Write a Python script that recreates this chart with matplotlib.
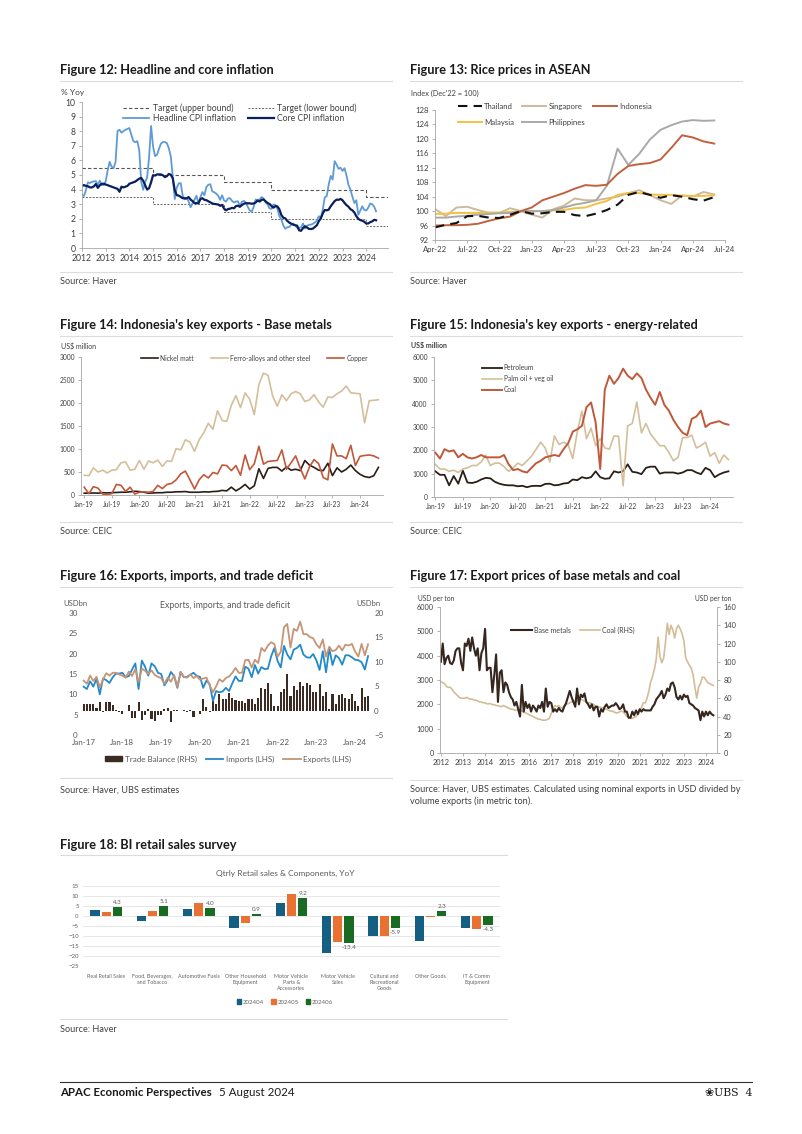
import numpy as np
import matplotlib
matplotlib.use('Agg')
import matplotlib.pyplot as plt
from matplotlib.lines import Line2D
from matplotlib.patches import Patch

plt.rcParams['font.family'] = ['Lato', 'DejaVu Sans']

# ---------------- data ----------------
# Figure 12: monthly Jan-2012 .. Jun-2024
headline_cpi = [3.65, 3.56, 3.97, 4.50, 4.45, 4.53, 4.56, 4.58, 4.31, 4.61, 4.32, 4.30,
                4.57, 5.31, 5.90, 5.57, 5.47, 5.90, 8.01, 8.10, 7.90, 8.00, 8.10, 8.15,
                8.22, 7.75, 7.32, 7.25, 7.32, 6.70, 4.53, 3.99, 4.53, 4.83, 6.23, 8.36,
                6.96, 6.29, 6.38, 6.79, 7.15, 7.26, 7.26, 7.18, 6.83, 6.25, 4.89, 3.35,
                4.14, 4.42, 4.45, 3.60, 3.33, 3.45, 3.21, 2.79, 3.07, 3.31, 3.58, 3.02,
                3.49, 3.83, 3.61, 4.17, 4.33, 4.37, 3.88, 3.82, 3.72, 3.58, 3.30, 3.61,
                3.25, 3.18, 3.40, 3.41, 3.23, 3.12, 3.18, 3.20, 2.88, 3.16, 3.23, 3.13,
                2.82, 2.57, 2.48, 2.83, 3.32, 3.28, 3.32, 3.49, 3.39, 3.13, 3.00, 2.72,
                2.68, 2.98, 2.96, 2.67, 2.19, 1.96, 1.54, 1.32, 1.42, 1.44, 1.59, 1.68,
                1.55, 1.38, 1.37, 1.42, 1.68, 1.33, 1.52, 1.59, 1.60, 1.66, 1.75, 1.87,
                2.18, 2.06, 2.64, 3.47, 3.55, 4.35, 4.94, 4.69, 5.95, 5.71, 5.42, 5.51,
                5.28, 5.47, 4.97, 4.33, 4.00, 3.52, 3.08, 3.27, 2.28, 2.56, 2.86, 2.61,
                2.57, 2.75, 3.05, 3.00, 2.84, 2.51]
core_cpi = [4.25, 4.31, 4.25, 4.23, 4.15, 4.15, 4.22, 4.38, 4.12, 4.29, 4.40, 4.40,
            4.35, 4.30, 4.25, 4.20, 4.15, 4.10, 4.05, 3.85, 4.20, 4.15, 4.20, 4.25,
            4.40, 4.45, 4.50, 4.55, 4.65, 4.75, 4.80, 4.60, 4.30, 4.00, 4.10, 4.50,
            4.99, 4.96, 5.04, 5.04, 5.04, 4.98, 4.86, 4.92, 5.07, 5.02, 4.77, 3.95,
            3.62, 3.59, 3.50, 3.41, 3.41, 3.39, 3.49, 3.32, 3.21, 3.08, 3.07, 3.07,
            3.35, 3.41, 3.30, 3.28, 3.20, 3.13, 3.05, 3.02, 3.00, 2.98, 2.89, 2.95,
            2.69, 2.58, 2.67, 2.69, 2.75, 2.72, 2.87, 2.90, 2.82, 2.94, 3.03, 3.07,
            3.06, 3.06, 3.03, 3.05, 3.12, 3.25, 3.18, 3.30, 3.32, 3.20, 3.08, 3.02,
            2.88, 2.76, 2.87, 2.85, 2.65, 2.26, 2.07, 2.03, 1.86, 1.74, 1.67, 1.60,
            1.56, 1.53, 1.21, 1.18, 1.37, 1.49, 1.40, 1.31, 1.30, 1.33, 1.44, 1.56,
            1.84, 2.03, 2.37, 2.60, 2.58, 2.63, 2.86, 3.04, 3.21, 3.31, 3.30, 3.36,
            3.27, 3.09, 2.94, 2.83, 2.66, 2.58, 2.43, 2.18, 2.00, 1.91, 1.87, 1.80,
            1.68, 1.68, 1.77, 1.82, 1.93, 1.90]
target_years = [2012, 2015, 2018, 2020, 2024, 2024.92]
target_upper = [5.5, 5.0, 4.5, 4.0, 3.5, 3.5]
target_lower = [3.5, 3.0, 2.5, 2.0, 1.5, 1.5]
years_12 = list(range(2012, 2025))

# Figure 13: monthly Apr-22 .. Jun-24
rice_labels = ['Apr-22', 'Jul-22', 'Oct-22', 'Jan-23', 'Apr-23', 'Jul-23', 'Oct-23',
               'Jan-24', 'Apr-24', 'Jul-24']
thailand = [95.5, 96.2, 96.7, 98.6, 98.7, 98.2, 98.1, 99.0, 100.0, 99.3, 99.4, 99.8, 99.8,
            98.9, 98.6, 99.3, 100.3, 101.8, 104.5, 105.3, 104.5, 103.7, 104.4, 104.0,
            103.3, 102.9, 103.9]
singapore = [100.6, 98.6, 101.0, 101.2, 100.3, 99.5, 99.5, 100.8, 100.0, 99.0, 98.2, 100.5,
             101.5, 103.5, 103.0, 103.0, 103.5, 104.0, 105.0, 105.8, 104.5, 103.0, 102.0,
             104.3, 104.0, 105.3, 104.6]
indonesia = [96.0, 96.1, 96.1, 96.2, 96.5, 97.3, 98.0, 98.5, 100.0, 101.0, 103.0, 104.0,
             105.0, 106.2, 107.2, 107.0, 107.3, 110.3, 112.5, 113.0, 113.3, 114.3, 117.5,
             121.0, 120.4, 119.3, 118.7]
malaysia = [99.2, 99.3, 99.5, 99.5, 99.5, 99.6, 99.6, 99.8, 100.0, 100.0, 100.0, 100.2,
            100.3, 100.8, 101.0, 102.0, 102.8, 104.5, 105.0, 105.0, 104.6, 104.5, 104.5,
            104.3, 104.2, 104.2, 104.4]
philippines = [98.2, 98.2, 98.5, 98.7, 99.0, 99.2, 99.4, 99.5, 100.0, 100.0, 100.0, 100.3,
               101.0, 101.8, 102.3, 103.0, 107.0, 117.3, 112.8, 115.8, 119.8, 122.5, 123.8,
               124.8, 125.2, 125.0, 125.1]

# Figure 14 / 15: monthly Jan-19 .. May-24
month_labels_19 = ['Jan-19', 'Jul-19', 'Jan-20', 'Jul-20', 'Jan-21', 'Jul-21', 'Jan-22',
                   'Jul-22', 'Jan-23', 'Jul-23', 'Jan-24']
nickel_matt = [40, 40, 45, 40, 50, 45, 50, 55, 60, 60, 70, 80,
               75, 60, 40, 45, 50, 50, 60, 60, 70, 70, 75, 60,
               60, 60, 70, 65, 75, 80, 100, 90, 170, 90, 150, 230,
               130, 200, 570, 360, 580, 600, 600, 520, 610, 540, 560, 530,
               750, 650, 600, 540, 530, 690, 420, 590, 500, 560, 650, 530,
               450, 400, 380, 420, 600]
ferro_alloys = [430, 420, 590, 500, 540, 480, 540, 550, 700, 720, 540, 560,
                750, 560, 740, 700, 760, 620, 740, 730, 1010, 980, 1200, 1150,
                950, 1200, 1350, 1560, 1430, 1830, 1620, 1600, 1950, 2160, 1900, 2220,
                2080, 1750, 2400, 2650, 2600, 2150, 1930, 2180, 2050, 2200, 2250, 2200,
                2030, 2070, 2180, 2020, 1910, 2130, 2120, 2200, 2260, 2370, 2220, 2210,
                2200, 1570, 2050, 2060, 2070]
copper = [170, 30, 180, 150, 20, 10, 30, 230, 210, 80, 170, 20,
          60, 70, 60, 80, 210, 140, 230, 250, 330, 460, 520, 330,
          130, 330, 440, 370, 490, 460, 650, 640, 530, 640, 430, 870,
          550, 680, 1060, 670, 730, 740, 750, 980, 560, 700, 850, 580,
          350, 610, 770, 680, 380, 330, 1110, 850, 850, 790, 1080, 640,
          840, 860, 870, 850, 800]
petroleum = [1100, 950, 950, 500, 900, 570, 1130, 620, 600, 650, 750, 820,
             800, 650, 570, 520, 500, 500, 460, 480, 420, 470, 480, 470,
             560, 570, 500, 520, 580, 600, 750, 720, 850, 800, 850, 1100,
             850, 780, 800, 1100, 1050, 1100, 1400, 1080, 1050, 980, 1250, 1300,
             1300, 1000, 1050, 1050, 1050, 1000, 1050, 1150, 1150, 1050, 980, 1250,
             1150, 850, 970, 1050, 1100]
palm_oil = [1400, 1200, 1200, 1100, 1150, 1050, 1200, 1250, 1350, 1350, 1500, 1800,
            1350, 1450, 1450, 1300, 1100, 1250, 1450, 1350, 1550, 1750, 2050, 2350,
            2100, 1500, 2620, 2250, 2350, 2250, 1650, 2800, 3680, 2500, 2950, 2200,
            2500, 2100, 2050, 2620, 2600, 480, 3050, 3150, 4070, 2750, 3150, 2700,
            2450, 2200, 2200, 1900, 1550, 1700, 2550, 2550, 2650, 2100, 2200, 2350,
            1750, 1900, 1450, 1800, 1600]
coal_exports = [1900, 1650, 2050, 1950, 2000, 1700, 1850, 1700, 1650, 1700, 1800, 1700,
                1700, 1700, 1700, 1800, 1400, 1150, 1200, 1100, 1050, 1250, 1450, 1550,
                1700, 1750, 1800, 1750, 2050, 2300, 2800, 2900, 3050, 3850, 4050, 3200,
                1200, 4600, 5200, 4850, 5100, 5500, 5200, 5050, 5300, 5100, 4600, 4250,
                3950, 4500, 3950, 3700, 3300, 3000, 2750, 2650, 3350, 3450, 3700, 3000,
                3150, 3200, 3250, 3150, 3100]

# Figure 16: monthly Jan-17 .. May-24, USD bn
month_labels_17 = ['Jan-17', 'Jan-18', 'Jan-19', 'Jan-20', 'Jan-21', 'Jan-22', 'Jan-23', 'Jan-24']
exports = [13.4, 12.6, 14.6, 13.3, 14.3, 11.7, 13.6, 15.2, 14.6, 15.3, 15.3, 14.9,
           14.6, 14.1, 15.6, 14.5, 16.2, 13.0, 16.3, 15.8, 15.0, 15.9, 14.8, 14.3,
           14.0, 12.6, 14.1, 13.1, 14.7, 11.8, 15.5, 14.3, 14.1, 14.9, 14.0, 14.5,
           13.6, 13.9, 14.1, 12.2, 10.5, 12.0, 13.7, 13.1, 14.0, 14.4, 15.3, 16.5,
           15.3, 15.3, 18.4, 18.5, 16.6, 18.5, 17.7, 21.4, 20.6, 22.0, 22.8, 22.4,
           19.2, 20.5, 26.5, 27.3, 21.5, 26.1, 25.6, 27.9, 24.8, 24.8, 24.1, 23.8,
           22.3, 21.4, 23.5, 19.3, 21.7, 20.6, 20.9, 22.0, 20.8, 22.2, 22.0, 22.4,
           20.5, 19.3, 22.4, 19.6, 22.3]
imports = [11.9, 11.3, 13.2, 11.9, 13.8, 10.0, 13.9, 13.5, 12.8, 14.2, 15.1, 15.1,
           15.3, 14.2, 14.5, 16.1, 17.6, 11.3, 18.3, 16.8, 14.6, 17.6, 16.9, 15.3,
           15.0, 12.2, 13.5, 15.5, 14.5, 11.6, 15.5, 14.2, 14.3, 14.8, 15.3, 14.5,
           14.3, 11.6, 13.4, 12.5, 8.4, 10.8, 10.5, 10.7, 11.6, 10.8, 12.7, 14.4,
           13.3, 13.3, 16.8, 16.3, 14.2, 17.2, 15.1, 16.7, 16.2, 16.3, 19.3, 21.4,
           18.2, 16.6, 21.9, 19.8, 18.6, 21.0, 21.4, 22.2, 19.8, 19.1, 19.0, 19.9,
           18.4, 16.0, 20.6, 15.4, 21.3, 17.2, 19.6, 18.9, 17.3, 19.6, 19.6, 19.1,
           18.5, 18.4, 17.9, 16.1, 19.4]
trade_balance = [1.4, 1.3, 1.4, 1.3, 0.5, 1.7, -0.3, 1.7, 1.8, 1.1, 0.2, -0.2,
                 -0.7, -0.1, 1.1, -1.6, -1.5, 1.7, -2.0, -1.0, 0.4, -1.8, -2.1, -1.0,
                 -1.0, 0.4, 0.6, -2.4, 0.2, 0.2, -0.1, 0.1, -0.2, 0.1, -1.3, -0.03,
                 -0.7, 2.3, 0.7, -0.3, 2.1, 1.3, 3.3, 2.4, 2.4, 3.6, 2.6, 2.1,
                 2.0, 2.0, 1.6, 2.3, 2.4, 1.3, 2.6, 4.7, 4.4, 5.7, 3.5, 1.0,
                 0.9, 3.8, 4.5, 7.6, 2.9, 5.1, 4.2, 5.8, 5.0, 5.7, 5.2, 3.9,
                 3.9, 5.4, 2.9, 3.9, 0.4, 3.5, 1.3, 3.1, 3.4, 2.5, 2.4, 3.3,
                 2.0, 0.9, 4.6, 2.7, 2.9]

# Figure 17: monthly Jan-2012 .. May-2024, USD per ton
base_metals = [3750, 4500, 3650, 3900, 4000, 3700, 3650, 3800, 4200, 4300, 4300, 3700,
               3400, 4500, 4400, 4700, 4200, 4750, 4300, 4000, 4300, 3400, 4100, 4300,
               5100, 3400, 3500, 3500, 2500, 3200, 4050, 2100, 3300, 3400, 2500, 2900,
               2800, 2500, 2300, 2200, 1950, 2100, 1800, 1500, 2800, 1700, 2100, 1850,
               2000, 1700, 1950, 1850, 1700, 1950, 1850, 2100, 1700, 2650, 1900, 2100,
               2050, 1700, 1800, 1700, 1850, 1750, 1700, 1900, 2050, 2300, 2550, 2300,
               2100, 1900, 2650, 2000, 2400, 2300, 2450, 2100, 2000, 1850, 2000, 1750,
               1900, 1900, 1500, 1800, 1700, 1900, 2000, 1850, 1900, 1950, 1950, 2050,
               1950, 1800, 1850, 2000, 1700, 1700, 1450, 1450, 1700, 1550, 1750, 1600,
               1800, 1700, 1800, 1750, 1750, 1750, 1750, 1900, 2000, 2200, 2300, 2400,
               2550, 2250, 2400, 2650, 2550, 2850, 2900, 2700, 2300, 2200, 2350, 2200,
               2400, 2300, 2350, 2050, 2000, 1950, 1850, 1800, 1750, 1350, 1700, 1500,
               1700, 1550, 1700, 1600, 1550]
coal_price = [78, 77, 76, 73, 72, 72, 70, 67, 65, 63, 61, 60,
              60, 60, 61, 60, 59, 59, 58, 58, 57, 56, 56, 55,
              55, 54, 54, 54, 53, 53, 52, 52, 51, 51, 52, 51,
              50, 49, 48, 48, 47, 47, 47, 47, 46, 45, 44, 43,
              42, 41, 40, 39, 38, 37, 37, 36, 36, 36, 37, 38,
              44, 49, 52, 51, 52, 50, 49, 52, 53, 54, 55, 56,
              56, 57, 57, 58, 59, 58, 57, 56, 55, 55, 54, 53,
              52, 51, 50, 50, 49, 49, 48, 47, 46, 46, 45, 44,
              44, 45, 46, 45, 43, 40, 39, 38, 38, 39, 40, 42,
              46, 50, 55, 55, 60, 68, 78, 84, 92, 103, 127, 106,
              99, 104, 121, 142, 130, 140, 135, 126, 136, 140, 136, 131,
              123, 104, 100, 96, 93, 86, 72, 60, 72, 76, 83, 83,
              80, 77, 76, 75, 74]

# Figure 18: BI retail sales survey, YoY %
retail_cats = ['Real Retail Sales', 'Food, Beverages,\nand Tobacco', 'Automotive Fuels',
               'Other Household\nEquipment', 'Motor Vehicle\nParts &\nAccessories',
               'Motor Vehicle\nSales', 'Cultural and\nRecreational\nGoods', 'Other Goods',
               'IT & Comm\nEquipment']
r_202404 = [2.9, -2.4, 3.3, -5.9, 6.5, -18.5, -10.0, -12.5, -6.0]
r_202405 = [2.1, 2.5, 6.4, -3.4, 10.9, -13.0, -9.8, -0.6, -6.3]
r_202406 = [4.3, 5.1, 4.0, 0.9, 9.2, -13.4, -5.9, 2.3, -4.3]

# ---------------- page ----------------
W, H = 802, 1134
fig = plt.figure(figsize=(W / 100, H / 100), dpi=100)
fig.patch.set_facecolor('white')

INK = '#1a1a1a'
GREY = '#404040'
SRC = 6.6


def box(x0, y0, x1, y1):
    return fig.add_axes([x0 / W, 1 - y1 / H, (x1 - x0) / W, (y1 - y0) / H])


def txt(x, y, s, **kw):
    kw.setdefault('va', 'center')
    kw.setdefault('color', INK)
    fig.text(x / W, 1 - y / H, s, **kw)


def rule(x0, x1, y, color='#dcdcdc', lw=0.8):
    fig.add_artist(Line2D([x0 / W, x1 / W], [1 - y / H, 1 - y / H], color=color, lw=lw))


def header(x, y, title):
    txt(x, y, title, fontsize=9.2, fontweight='bold')
    rule(x, x + 332, y + 11)


def style(ax, size=6, color=GREY):
    for s in ['top', 'right']:
        ax.spines[s].set_visible(False)
    for s in ['left', 'bottom']:
        ax.spines[s].set_color('#a6a6a6')
        ax.spines[s].set_linewidth(0.6)
    ax.tick_params(labelsize=size, colors='#a6a6a6', labelcolor=color, length=2.5,
                   width=0.6, pad=2)
    ax.set_facecolor('none')


# Figure 12
header(60, 70, 'Figure 12: Headline and core inflation')
txt(61, 93, '% Yoy', fontsize=6, color=GREY)
ax = box(82, 102, 388, 248)
x12 = 2012 + np.arange(len(headline_cpi)) / 12
l1, = ax.plot(target_years, target_upper, drawstyle='steps-post', color='#555555',
              lw=0.8, ls=(0, (3, 2)))
l2, = ax.plot(target_years, target_lower, drawstyle='steps-post', color='#666666',
              lw=0.7, ls=(0, (2, 1.5)))
l3, = ax.plot(x12, headline_cpi, color='#5e9bd6', lw=1.3)
l4, = ax.plot(x12[:len(core_cpi)], core_cpi, color='#0b1f5c', lw=1.6)
ax.set_xlim(2012, 2024.92)
ax.set_ylim(0, 10)
ax.set_yticks(range(0, 11))
ax.set_xticks(years_12)
style(ax, 6.2)
ax.legend([l1, l3, l2, l4], ['Target (upper bound)', 'Headline CPI inflation',
                             'Target (lower bound)', 'Core CPI inflation'],
          ncol=2, frameon=False, fontsize=6.2, handlelength=3.0, columnspacing=1.4,
          handletextpad=0.4, labelspacing=0.15, loc='upper left',
          bbox_to_anchor=(0.11, 1.045), labelcolor=GREY)
rule(60, 392, 272)
txt(60, 282, 'Source: Haver', fontsize=SRC, color=GREY)

# Figure 13
header(410, 70, 'Figure 13: Rice prices in ASEAN')
txt(411, 93, "Index (Dec'22 = 100)", fontsize=5.3, color=GREY)
ax = box(435, 110, 725, 240)
x13 = np.arange(len(thailand))
h_sg, = ax.plot(x13, singapore, color='#cdb99c', lw=1.4)
h_my, = ax.plot(x13, malaysia, color='#f3c141', lw=1.4)
h_ph, = ax.plot(x13, philippines, color='#a9a9a9', lw=1.4)
h_id, = ax.plot(x13, indonesia, color='#c0623f', lw=1.4)
h_th, = ax.plot(x13, thailand, color='#111111', lw=1.5, ls=(0, (4.5, 3)))
ax.set_xlim(0, 27)
ax.set_ylim(92, 128)
ax.set_yticks(range(92, 129, 4))
ax.set_xticks(range(0, 28, 3))
ax.set_xticklabels(rice_labels)
style(ax, 5.6)
ax.legend([h_th, h_my, h_sg, h_ph, h_id],
          ['Thailand', 'Malaysia', 'Singapore', 'Philippines', 'Indonesia'],
          ncol=3, frameon=False, fontsize=5.6, handlelength=3.1, columnspacing=1.0,
          handletextpad=0.3, labelspacing=1.2, loc='upper left',
          bbox_to_anchor=(0.055, 1.11), labelcolor=GREY)
rule(410, 742, 272)
txt(410, 282, 'Source: Haver', fontsize=SRC, color=GREY)

# Figure 14
header(60, 325, "Figure 14: Indonesia's key exports - Base metals")
txt(61, 346, 'US$ million', fontsize=5, color=GREY)
ax = box(81, 357, 383, 495)
x14 = np.arange(len(nickel_matt))
a, = ax.plot(x14, nickel_matt, color='#2b1e18', lw=1.2)
b, = ax.plot(x14, ferro_alloys, color='#d4bf9a', lw=1.2)
c, = ax.plot(x14, copper, color='#c0583a', lw=1.2)
ax.set_xlim(-0.7, 65)
ax.set_ylim(0, 3000)
ax.set_yticks(range(0, 3001, 500))
ax.set_xticks(range(0, 61, 6))
ax.set_xticklabels(month_labels_19)
style(ax, 4.8)
ax.legend([a, b, c], ['Nickel matt', 'Ferro-alloys and other steel', 'Copper'],
          ncol=3, frameon=False, fontsize=4.8, handlelength=2.5, columnspacing=2.6,
          handletextpad=0.3, loc='upper left', bbox_to_anchor=(0.18, 1.06),
          labelcolor=GREY)
rule(60, 392, 522)
txt(60, 532, 'Source: CEIC', fontsize=SRC, color=GREY)

# Figure 15
header(410, 325, "Figure 15: Indonesia's key exports - energy-related")
txt(411, 346, 'US$ million', fontsize=5, color=GREY, fontweight='bold')
ax = box(434, 357, 733, 497)
x15 = np.arange(len(petroleum))
a, = ax.plot(x15, petroleum, color='#2b1e18', lw=1.3)
b, = ax.plot(x15, palm_oil, color='#d4bf9a', lw=1.2)
c, = ax.plot(x15, coal_exports, color='#c0583a', lw=1.4)
ax.set_xlim(-0.3, 65)
ax.set_ylim(0, 6000)
ax.set_yticks(range(0, 6001, 1000))
ax.set_xticks(range(0, 61, 6))
ax.set_xticklabels(month_labels_19)
style(ax, 4.8)
ax.legend([a, b, c], ['Petroleum', 'Palm oil + veg oil', 'Coal'],
          ncol=1, frameon=False, fontsize=4.8, handlelength=3.0, handletextpad=0.3,
          labelspacing=0.6, loc='upper left', bbox_to_anchor=(0.14, 0.99),
          labelcolor=GREY)
rule(410, 742, 522)
txt(410, 532, 'Source: CEIC', fontsize=SRC, color=GREY)

# Figure 16
header(60, 576, 'Figure 16: Exports, imports, and trade deficit')
txt(225, 605, 'Exports, imports, and trade deficit', fontsize=6.3, color='#595959',
    ha='center')
txt(75, 603, 'USDbn', fontsize=5.5, color='#595959', ha='center')
txt(368, 603, 'USDbn', fontsize=5.5, color='#595959', ha='center')
ax = box(82, 613, 370, 735)
ax2 = ax.twinx()
x16 = np.arange(len(exports))
ax2.bar(x16, trade_balance, width=0.65, color='#3b2b22')
ax.plot(x16, imports, color='#2389ca', lw=1.3)
ax.plot(x16, exports, color='#c49576', lw=1.3)
ax.set_zorder(ax2.get_zorder() + 1)
ax.patch.set_visible(False)
ax.set_xlim(-0.5, 88.6)
ax.set_ylim(0, 30)
ax2.set_ylim(-5, 20)
ax.set_yticks(range(0, 31, 5))
ax2.set_yticks(range(-5, 21, 5))
ax.set_xticks(range(0, 85, 12))
ax.set_xticklabels(month_labels_17)
for a_ in (ax, ax2):
    for s in a_.spines.values():
        s.set_visible(False)
    a_.tick_params(labelsize=5.8, labelcolor='#595959', length=0, pad=3)
fig.legend([Patch(color='#3b2b22'), Line2D([], [], color='#2389ca', lw=1.3),
            Line2D([], [], color='#c49576', lw=1.3)],
           ['Trade Balance (RHS)', 'Imports (LHS)', 'Exports (LHS)'],
           ncol=3, frameon=False, fontsize=5.8, handlelength=2.2, handleheight=0.5,
           columnspacing=1.1, handletextpad=0.3, loc='center',
           bbox_to_anchor=(228 / W, 1 - 759 / H), labelcolor='#595959')
rule(60, 392, 778)
txt(60, 790, 'Source: Haver, UBS estimates', fontsize=SRC, color=GREY)

# Figure 17
header(410, 576, 'Figure 17: Export prices of base metals and coal')
txt(418, 598, 'USD per ton', fontsize=4.8, color=GREY)
txt(695, 598, 'USD per ton', fontsize=4.8, color=GREY)
ax = box(440, 607, 717, 753)
ax2 = ax.twinx()
x17 = 2012 + np.arange(len(base_metals)) / 12
c, = ax2.plot(x17[:len(coal_price)], coal_price, color='#d3bd98', lw=1.2)
a, = ax.plot(x17, base_metals, color='#35261e', lw=1.5)
ax.set_zorder(ax2.get_zorder() + 1)
ax.patch.set_visible(False)
ax.set_xlim(2011.96, 2024.5)
ax.set_ylim(0, 6000)
ax2.set_ylim(0, 160)
ax.set_yticks(range(0, 6001, 1000))
ax2.set_yticks(range(0, 161, 20))
ax.set_xticks(years_12)
style(ax, 5.3)
ax2.spines['top'].set_visible(False)
for s in ['left', 'bottom']:
    ax2.spines[s].set_visible(False)
ax2.spines['right'].set_color('#a6a6a6')
ax2.spines['right'].set_linewidth(0.6)
ax2.tick_params(labelsize=5.3, colors='#a6a6a6', labelcolor=GREY, length=2.5,
                width=0.6, pad=2)
ax.legend([a, c], ['Base metals', 'Coal (RHS)'], ncol=2, frameon=False,
          fontsize=5, handlelength=3.0, columnspacing=1.3, handletextpad=0.2,
          loc='center', bbox_to_anchor=(0.48, 0.84), labelcolor=GREY)
rule(410, 742, 780)
txt(410, 790, 'Source: Haver, UBS estimates. Calculated using nominal exports in USD divided by',
    fontsize=SRC, color=GREY)
txt(410, 801, 'volume exports (in metric ton).', fontsize=SRC, color=GREY)

# Figure 18
txt(60, 845, 'Figure 18: BI retail sales survey', fontsize=9.2, fontweight='bold')
rule(60, 507, 855)
txt(285, 873, 'Qtrly Retail sales & Components, YoY', fontsize=6, color='#595959',
    ha='center')
ax = box(83, 886, 500, 966)
x18 = np.arange(len(retail_cats))
bw = 0.2
b1 = ax.bar(x18 - bw * 1.2, r_202404, bw, color='#156082')
b2 = ax.bar(x18, r_202405, bw, color='#e97132')
b3 = ax.bar(x18 + bw * 1.2, r_202406, bw, color='#196b24')
ax.bar_label(b3, labels=['%.1f' % v for v in r_202406], fontsize=4.5, color='#595959',
             padding=1.5)
ax.set_xlim(-0.5, len(retail_cats) - 0.5)
ax.set_ylim(-25, 15)
ax.set_yticks(range(-25, 16, 5))
ax.yaxis.grid(True, color='#e3e3e3', lw=0.6)
ax.set_axisbelow(True)
ax.set_xticks(x18)
ax.set_xticklabels(retail_cats)
for s in ax.spines.values():
    s.set_visible(False)
ax.tick_params(labelsize=4.4, labelcolor='#666666', length=0, pad=3)
ax.tick_params(axis='x', pad=6, labelsize=3.9)
fig.legend([Patch(color='#156082'), Patch(color='#e97132'), Patch(color='#196b24')],
           ['202404', '202405', '202406'], ncol=3, frameon=False, fontsize=4.4,
           handlelength=0.7, handleheight=0.7, columnspacing=1.2, handletextpad=0.3,
           loc='center', bbox_to_anchor=(285 / W, 1 - 1002 / H), labelcolor='#666666')
rule(60, 507, 1019)
txt(60, 1030, 'Source: Haver', fontsize=SRC, color=GREY)

# footer
rule(60, 752, 1082, color='#333333', lw=0.8)
txt(60, 1093, 'APAC Economic Perspectives', fontsize=8.3, fontweight='bold')
txt(219, 1093, '5 August 2024', fontsize=8.3)
txt(752, 1093, '\u2740UBS  4', fontsize=7.8, ha='right',
    family=['DejaVu Serif', 'DejaVu Sans'])

fig.savefig('out.png', dpi=100)
